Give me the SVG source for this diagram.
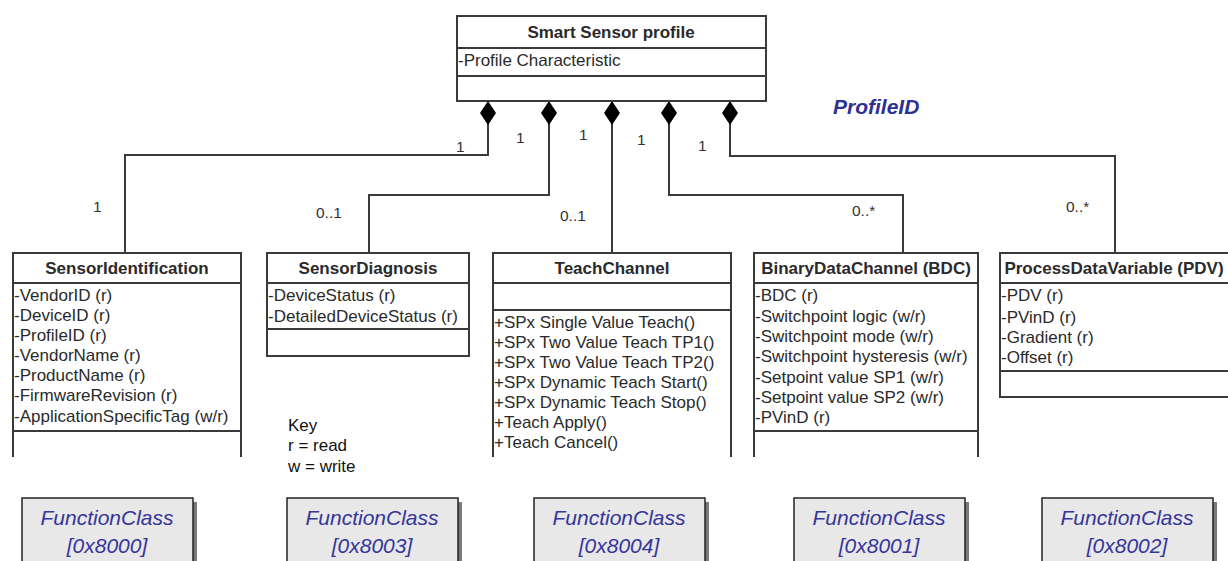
<svg xmlns="http://www.w3.org/2000/svg" width="1228" height="561" viewBox="0 0 1228 561">
  <defs>
    <style>
      .box { fill: #ffffff; stroke: #3a3a3a; stroke-width: 2; }
      .sep { stroke: #3a3a3a; stroke-width: 2; fill: none; }
      .title { font-family: "Liberation Sans", Arial, sans-serif; font-size: 17px; font-weight: bold; fill: #2a2a2a; text-anchor: middle; }
      .attr { font-family: "Liberation Sans", Arial, sans-serif; font-size: 17px; fill: #2a2a2a; }
      .mult { font-family: "Liberation Sans", Arial, sans-serif; font-size: 15.5px; fill: #333333; }
      .key { font-family: "Liberation Sans", Arial, sans-serif; font-size: 17px; fill: #111111; }
      .link { fill: none; stroke: #3a3a3a; stroke-width: 2; }
      .fc { fill: #e8e8e8; stroke: #222222; stroke-width: 1.5; }
      .fcshadow { fill: #7a7a7a; }
      .fctext { font-family: "Liberation Sans", Arial, sans-serif; font-size: 21px; font-style: italic; fill: #35359a; text-anchor: middle; }
      .pid { font-family: "Liberation Sans", Arial, sans-serif; font-size: 21px; font-style: italic; font-weight: bold; fill: #2e3192; }
    </style>
    <!-- filled diamond for composition, tip sits on the owning class -->
    <marker id="composite" viewBox="0 0 16 24" refX="8" refY="0" markerWidth="16" markerHeight="24" markerUnits="userSpaceOnUse" orient="0">
      <path d="M8 0 L16 12 L8 24 L0 12 Z" fill="#000000"/>
    </marker>
  </defs>

  <!-- connectors: composition from the profile to each function block -->
  <g id="connectors">
    <path class="link" d="M488 101 V155 H125 V253" marker-start="url(#composite)"/>
    <path class="link" d="M549 101 V195 H369 V253" marker-start="url(#composite)"/>
    <path class="link" d="M612 101 V253" marker-start="url(#composite)"/>
    <path class="link" d="M669 101 V195 H903 V253" marker-start="url(#composite)"/>
    <path class="link" d="M730 101 V156 H1115 V253" marker-start="url(#composite)"/>
    <!-- multiplicities, whole end -->
    <text class="mult" x="456" y="152">1</text>
    <text class="mult" x="516" y="143">1</text>
    <text class="mult" x="579" y="140">1</text>
    <text class="mult" x="637" y="145">1</text>
    <text class="mult" x="698" y="151">1</text>
    <!-- multiplicities, part end -->
    <text class="mult" x="93" y="212">1</text>
    <text class="mult" x="316" y="218">0..1</text>
    <text class="mult" x="560" y="221">0..1</text>
    <text class="mult" x="852" y="216">0..*</text>
    <text class="mult" x="1066" y="212">0..*</text>
  </g>

  <!-- profile root class -->
  <g id="smart-sensor-profile">
    <rect class="box" x="457" y="16" width="309" height="85"/>
    <line class="sep" x1="457" y1="48" x2="766" y2="48"/>
    <line class="sep" x1="457" y1="76" x2="766" y2="76"/>
    <text class="title" x="611" y="38">Smart Sensor profile</text>
    <text class="attr" x="458" y="66">-Profile Characteristic</text>
  </g>

  <text id="profile-id" class="pid" x="833" y="114">ProfileID</text>

  <g id="sensor-identification">
    <path class="box" d="M13 457 V253 H241 V457"/>
    <line class="sep" x1="13" y1="283" x2="241" y2="283"/>
    <line class="sep" x1="13" y1="431" x2="241" y2="431"/>
    <text class="title" x="127" y="274">SensorIdentification</text>
    <text class="attr" x="14" y="301">-VendorID (r)</text>
    <text class="attr" x="14" y="321">-DeviceID (r)</text>
    <text class="attr" x="14" y="341">-ProfileID (r)</text>
    <text class="attr" x="14" y="361">-VendorName (r)</text>
    <text class="attr" x="14" y="381">-ProductName (r)</text>
    <text class="attr" x="14" y="401">-FirmwareRevision (r)</text>
    <text class="attr" x="14" y="422">-ApplicationSpecificTag (w/r)</text>
  </g>

  <g id="sensor-diagnosis">
    <rect class="box" x="267" y="253" width="202" height="103"/>
    <line class="sep" x1="267" y1="283" x2="469" y2="283"/>
    <line class="sep" x1="267" y1="329" x2="469" y2="329"/>
    <text class="title" x="368" y="274">SensorDiagnosis</text>
    <text class="attr" x="268" y="301">-DeviceStatus (r)</text>
    <text class="attr" x="268" y="322">-DetailedDeviceStatus (r)</text>
  </g>

  <g id="key">
    <text class="key" x="288" y="431">Key</text>
    <text class="key" x="288" y="451">r = read</text>
    <text class="key" x="288" y="472">w = write</text>
  </g>

  <g id="teach-channel">
    <path class="box" d="M493 457 V253 H731 V457"/>
    <line class="sep" x1="493" y1="283" x2="731" y2="283"/>
    <line class="sep" x1="493" y1="310" x2="731" y2="310"/>
    <text class="title" x="612" y="274">TeachChannel</text>
    <text class="attr" x="494" y="328">+SPx Single Value Teach()</text>
    <text class="attr" x="494" y="348">+SPx Two Value Teach TP1()</text>
    <text class="attr" x="494" y="368">+SPx Two Value Teach TP2()</text>
    <text class="attr" x="494" y="388">+SPx Dynamic Teach Start()</text>
    <text class="attr" x="494" y="408">+SPx Dynamic Teach Stop()</text>
    <text class="attr" x="494" y="428">+Teach Apply()</text>
    <text class="attr" x="494" y="448">+Teach Cancel()</text>
  </g>

  <g id="binary-data-channel">
    <path class="box" d="M754 457 V253 H978 V457"/>
    <line class="sep" x1="754" y1="283" x2="978" y2="283"/>
    <line class="sep" x1="754" y1="431" x2="978" y2="431"/>
    <text class="title" x="866" y="274">BinaryDataChannel (BDC)</text>
    <text class="attr" x="755" y="301">-BDC (r)</text>
    <text class="attr" x="755" y="322">-Switchpoint logic (w/r)</text>
    <text class="attr" x="755" y="342">-Switchpoint mode (w/r)</text>
    <text class="attr" x="755" y="362">-Switchpoint hysteresis (w/r)</text>
    <text class="attr" x="755" y="383">-Setpoint value SP1 (w/r)</text>
    <text class="attr" x="755" y="403">-Setpoint value SP2 (w/r)</text>
    <text class="attr" x="755" y="423">-PVinD (r)</text>
  </g>

  <g id="process-data-variable">
    <rect class="box" x="1000" y="253" width="240" height="144"/>
    <line class="sep" x1="1000" y1="283" x2="1240" y2="283"/>
    <line class="sep" x1="1000" y1="371" x2="1240" y2="371"/>
    <text class="title" x="1114" y="274">ProcessDataVariable (PDV)</text>
    <text class="attr" x="1001" y="301">-PDV (r)</text>
    <text class="attr" x="1001" y="323">-PVinD (r)</text>
    <text class="attr" x="1001" y="343">-Gradient (r)</text>
    <text class="attr" x="1001" y="363">-Offset (r)</text>
  </g>

  <!-- function class tags under each block -->
  <g id="fc-8000">
    <rect class="fcshadow" x="26" y="502" width="171" height="80"/>
    <rect class="fc" x="22" y="498" width="171" height="80"/>
    <text class="fctext" x="107" y="525">FunctionClass</text>
    <text class="fctext" x="107" y="553">[0x8000]</text>
  </g>
  <g id="fc-8003">
    <rect class="fcshadow" x="291" y="502" width="171" height="80"/>
    <rect class="fc" x="287" y="498" width="171" height="80"/>
    <text class="fctext" x="372" y="525">FunctionClass</text>
    <text class="fctext" x="372" y="553">[0x8003]</text>
  </g>
  <g id="fc-8004">
    <rect class="fcshadow" x="538" y="502" width="171" height="80"/>
    <rect class="fc" x="534" y="498" width="171" height="80"/>
    <text class="fctext" x="619" y="525">FunctionClass</text>
    <text class="fctext" x="619" y="553">[0x8004]</text>
  </g>
  <g id="fc-8001">
    <rect class="fcshadow" x="798" y="502" width="171" height="80"/>
    <rect class="fc" x="794" y="498" width="171" height="80"/>
    <text class="fctext" x="879" y="525">FunctionClass</text>
    <text class="fctext" x="879" y="553">[0x8001]</text>
  </g>
  <g id="fc-8002">
    <rect class="fcshadow" x="1046" y="502" width="171" height="80"/>
    <rect class="fc" x="1042" y="498" width="171" height="80"/>
    <text class="fctext" x="1127" y="525">FunctionClass</text>
    <text class="fctext" x="1127" y="553">[0x8002]</text>
  </g>
</svg>
